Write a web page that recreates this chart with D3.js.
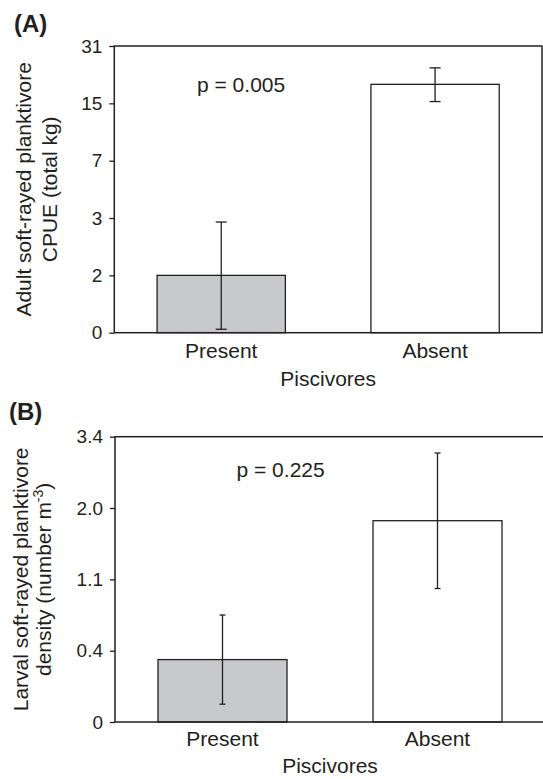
<!DOCTYPE html>
<html>
<head>
<meta charset="utf-8">
<script src="https://cdn.jsdelivr.net/npm/d3@7"></script>
<style>
  body { margin: 0; background: #fff; }
  text { font-family: "Liberation Sans", Arial, sans-serif; fill: #231f20; }
</style>
</head>
<body>
<div id="chart"></div>
<script>
// categories shared by both panels
const categories = ["Present", "Absent"];

// panel A: adult CPUE, axis ticks as printed (evenly spaced on the page)
const ticksA = [0, 2, 3, 7, 15, 31];
const tickLabelsA = ["0", "2", "3", "7", "15", "31"];
const meanA = [2, 20.3];
const lowA = [0.12, 15.5];
const highA = [2.93, 24.9];

// panel B: larval density
const ticksB = [0, 0.4, 1.1, 2.0, 3.4];
const tickLabelsB = ["0", "0.4", "1.1", "2.0", "3.4"];
const meanB = [0.35, 1.84];
const lowB = [0.1, 1.01];
const highB = [0.75, 3.08];

const barFill = ["#c8c9cb", "#ffffff"];
const ink = "#231f20";

const svg = d3.select("#chart")
  .append("svg")
  .attr("width", 543)
  .attr("height", 779);

function drawPanel(opt) {
  const g = svg.append("g");
  const { left, right, top, bottom } = opt;

  // ticks are evenly spaced on the page, so use a polylinear scale
  const step = (bottom - top) / (opt.ticks.length - 1);
  const y = d3.scaleLinear()
    .domain(opt.ticks)
    .range(opt.ticks.map((t, i) => bottom - i * step));

  const x = d3.scaleBand()
    .domain(categories)
    .range([left, right])
    .paddingInner(0.4)
    .paddingOuter(0.2);

  // bars
  g.selectAll("rect.bar")
    .data(categories)
    .enter()
    .append("rect")
      .attr("class", "bar")
      .attr("x", d => x(d))
      .attr("width", x.bandwidth())
      .attr("y", (d, i) => y(opt.mean[i]))
      .attr("height", (d, i) => bottom - y(opt.mean[i]))
      .style("fill", (d, i) => barFill[i])
      .style("stroke", ink)
      .style("stroke-width", 1.3);

  // error bars
  const eb = g.selectAll("g.err")
    .data(categories)
    .enter()
    .append("g")
      .attr("class", "err")
      .style("stroke", ink)
      .style("stroke-width", 1.3);
  eb.append("line")
    .attr("x1", d => x(d) + x.bandwidth() / 2)
    .attr("x2", d => x(d) + x.bandwidth() / 2)
    .attr("y1", (d, i) => y(opt.low[i]))
    .attr("y2", (d, i) => y(opt.high[i]));
  [opt.low, opt.high].forEach(arr => {
    eb.append("line")
      .attr("x1", d => x(d) + x.bandwidth() / 2 - opt.cap)
      .attr("x2", d => x(d) + x.bandwidth() / 2 + opt.cap)
      .attr("y1", (d, i) => y(arr[i]))
      .attr("y2", (d, i) => y(arr[i]));
  });

  // frame
  g.append("rect")
    .attr("x", left)
    .attr("y", top)
    .attr("width", right - left)
    .attr("height", bottom - top)
    .style("fill", "none")
    .style("stroke", ink)
    .style("stroke-width", 1.5);

  // y axis
  const yAxis = g.append("g")
    .attr("transform", `translate(${left},0)`)
    .call(d3.axisLeft(y).tickValues(opt.ticks)
      .tickFormat((d, i) => opt.tickLabels[i])
      .tickSize(5).tickPadding(7));
  yAxis.select(".domain").remove();
  yAxis.selectAll(".tick line").attr("stroke", ink).attr("stroke-width", 1.3);
  yAxis.selectAll(".tick text")
    .style("font-size", "19px")
    .style("font-family", "'Liberation Sans', Arial, sans-serif")
    .attr("fill", ink);

  // x axis (category labels only)
  const xAxis = g.append("g")
    .attr("transform", `translate(0,${bottom})`)
    .call(d3.axisBottom(x).tickSize(0).tickPadding(opt.catPad));
  xAxis.select(".domain").remove();
  xAxis.selectAll(".tick text")
    .style("font-size", "21px")
    .style("font-family", "'Liberation Sans', Arial, sans-serif")
    .attr("fill", ink);

  g.append("text")
    .attr("text-anchor", "middle")
    .attr("x", (left + right) / 2)
    .attr("y", bottom + opt.titleGap)
    .style("font-size", "21px")
    .text("Piscivores");

  // y title, two lines
  const cy = (top + bottom) / 2;
  opt.yTitle.forEach((line, i) => {
    const t = g.append("text")
      .attr("text-anchor", "middle")
      .attr("transform", `translate(${opt.yTitleX[i]},${cy}) rotate(-90)`)
      .style("font-size", "21px");
    if (typeof line === "string") {
      t.text(line);
    } else {
      t.append("tspan").text(line[0]);
      t.append("tspan").attr("dy", -8).style("font-size", "14px").text(line[1]);
      t.append("tspan").attr("dy", 8).text(line[2]);
    }
  });

  // panel letter
  g.append("text")
    .attr("x", opt.letterX)
    .attr("y", opt.letterY)
    .style("font-size", "24px")
    .style("font-weight", "bold")
    .text(opt.letter);

  // p value
  g.append("text")
    .attr("x", opt.pX)
    .attr("y", opt.pY)
    .style("font-size", "21px")
    .text(opt.pText);
}

drawPanel({
  left: 114.3, right: 542, top: 46, bottom: 332.7,
  ticks: ticksA, tickLabels: tickLabelsA,
  mean: meanA, low: lowA, high: highA, cap: 5.5,
  catPad: 10.5, titleGap: 53.3,
  yTitle: ["Adult soft-rayed planktivore", "CPUE (total kg)"],
  yTitleX: [31, 57],
  letter: "(A)", letterX: 14, letterY: 32,
  pText: "p = 0.005", pX: 197, pY: 91.7
});

drawPanel({
  left: 115, right: 545, top: 436.7, bottom: 722,
  ticks: ticksB, tickLabels: tickLabelsB,
  mean: meanB, low: lowB, high: highB, cap: 3,
  catPad: 9.5, titleGap: 51,
  yTitle: ["Larval soft-rayed planktivore", ["density (number m", "-3", ")"]],
  yTitleX: [27.5, 51],
  letter: "(B)", letterX: 9, letterY: 420,
  pText: "p = 0.225", pX: 236.5, pY: 477
});
</script>
</body>
</html>
